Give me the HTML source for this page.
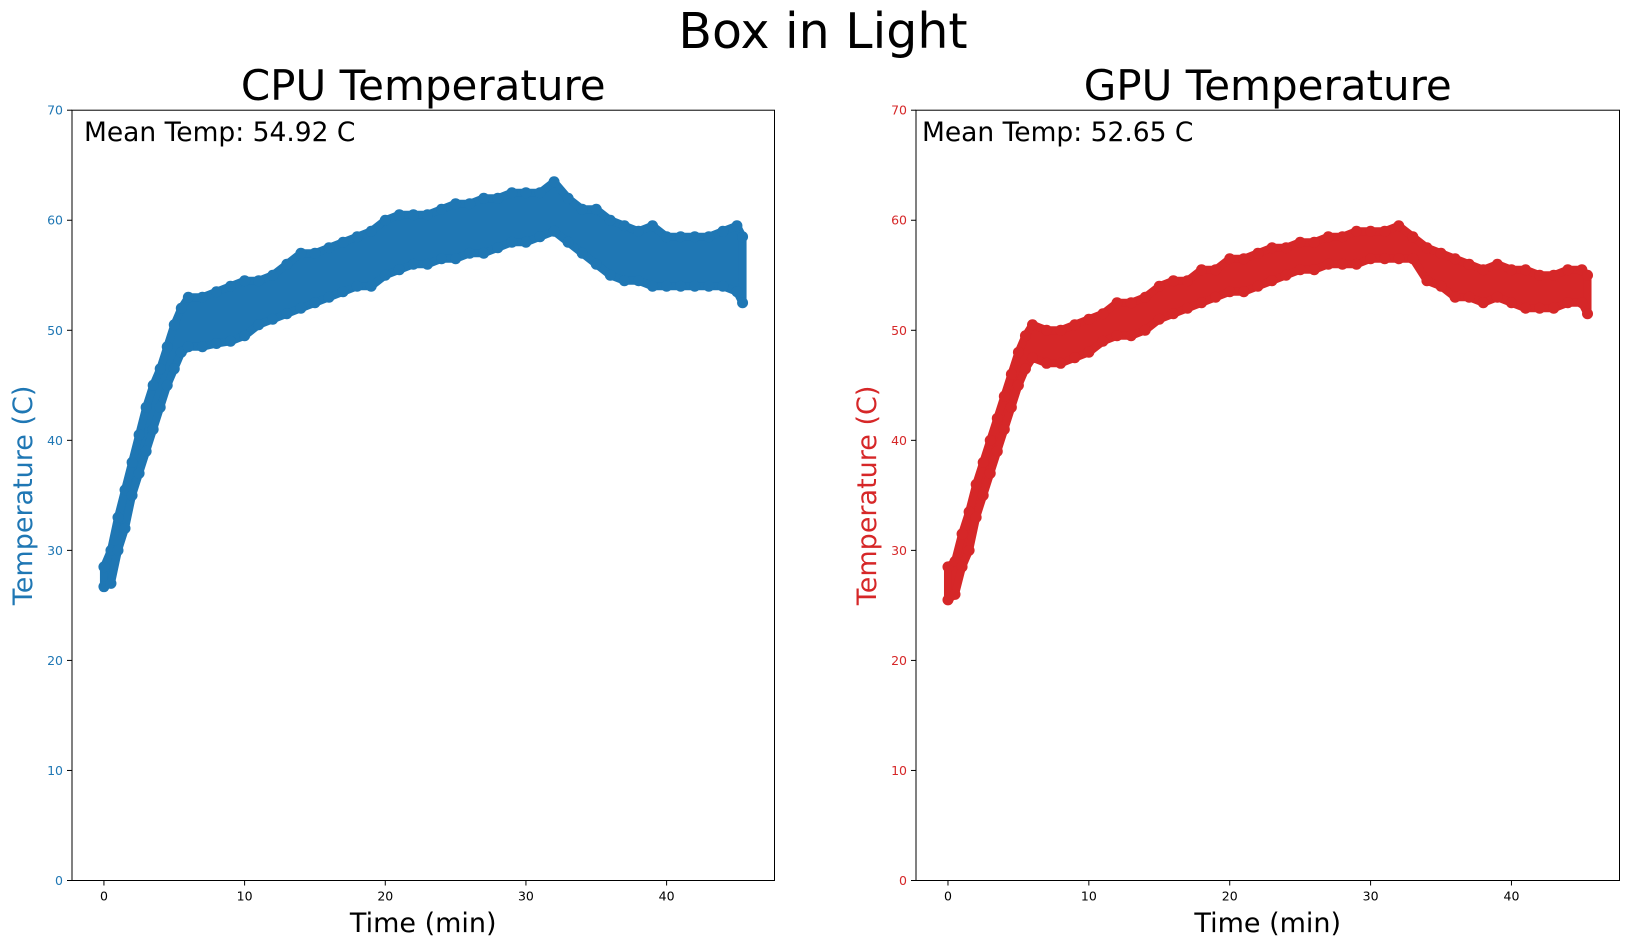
<!DOCTYPE html>
<html><head><meta charset="utf-8"><style>
body{margin:0;background:#fff;}
svg{display:block;font-family:"DejaVu Sans","Liberation Sans",sans-serif;}
</style></head><body>
<svg id="fig" width="1630" height="947" viewBox="0 0 1630 947">
<text x="823" y="48" font-size="49" text-anchor="middle">Box in Light</text>
</svg>
<script>
const times=[0,0.5,1,1.5,2,2.5,3,3.5,4,4.5,5,5.5,6,7,8,9,10,11,12,13,14,15,16,17,18,19,20,21,22,23,24,25,26,27,28,29,30,31,32,33,34,35,36,37,38,39,40,41,42,43,44,45,45.4];
const cpuLo=[26.7,27,30,32,35,37,39,41,43,45,46.5,48,48.5,48.5,48.8,49,49.5,50.5,51,51.5,52,52.5,53,53.5,54,54,55,55.5,56,56,56.5,56.5,57,57,57.5,58,58,58.5,59,58,57,56,55,54.5,54.5,54,54,54,54,54,54,53.5,52.5];
const cpuHi=[28.5,30,33,35.5,38,40.5,43,45,46.5,48.5,50.5,52,53,53,53.5,54,54.5,54.5,55,56,57,57,57.5,58,58.5,59,60,60.5,60.5,60.5,61,61.5,61.5,62,62,62.5,62.5,62.5,63.5,62,61,61,60,59.5,59,59.5,58.5,58.5,58.5,58.5,59,59.5,58.5];
const gpuLo=[25.5,26,28.5,30,33,35,37,39,41,43,45,46.5,47.5,47,47,47.5,48,49,49.5,49.5,50,51,51.5,52,52.5,53,53.5,53.5,54,54.5,55,55.5,55.5,56,56,56,56.5,56.5,56.5,56.5,54.5,54,53,53,52.5,53,52.5,52,52,52,52.5,52.5,51.5];
const gpuHi=[28.5,29,31.5,33.5,36,38,40,42,44,46,48,49.5,50.5,50,50,50.5,51,51.5,52.5,52.5,53,54,54.5,54.5,55.5,55.5,56.5,56.5,57,57.5,57.5,58,58,58.5,58.5,59,59,59,59.5,58.5,57.5,57,56.5,56,55.5,56,55.5,55.5,55,55,55.5,55.5,55];
const xTicks=[0,10,20,30,40];
const yTicks=[0,10,20,30,40,50,60,70];
const panels=[
 {key:'cpu',title:'CPU Temperature',mean:'Mean Temp: 54.92 C',color:'#1f77b4',lo:cpuLo,hi:cpuHi,L:72,R:774.5,mx:12},
 {key:'gpu',title:'GPU Temperature',mean:'Mean Temp: 52.65 C',color:'#d62728',lo:gpuLo,hi:gpuHi,L:916,R:1619.5,mx:6}
];
const NS='http://www.w3.org/2000/svg';
const svg=document.getElementById('fig');
function mk(tag,attrs,parent){const e=document.createElementNS(NS,tag);for(const k in attrs)e.setAttribute(k,attrs[k]);(parent||svg).appendChild(e);return e;}
const T=110.2,B=880.5,XMIN=-2.27,XMAX=47.67;
panels.forEach(p=>{
 const g=mk('g',{});
 
 
 const sx=v=>p.L+(v-XMIN)/(XMAX-XMIN)*(p.R-p.L);
 const sy=v=>B-v/70*(B-T);
 let pts=times.map((t,i)=>sx(t)+','+sy(p.hi[i]));
 for(let i=times.length-1;i>=0;i--)pts.push(sx(times[i])+','+sy(p.lo[i]));
 const band=mk('polygon',{points:pts.join(' '),fill:p.color,stroke:p.color,'stroke-width':8,'stroke-linejoin':'round'},g);
 
 
 times.forEach((t,i)=>{
  [p.lo[i],p.hi[i]].forEach(v=>{
   const c=mk('circle',{cx:sx(t),cy:sy(v),r:5.5,fill:p.color},g);
   
   
  });
 });
 const fr=mk('rect',{x:p.L,y:T,width:p.R-p.L,height:B-T,fill:'none',stroke:'#000','stroke-width':1},g);
 
 
 xTicks.forEach(v=>{
  mk('line',{x1:sx(v),x2:sx(v),y1:B,y2:B+5,stroke:'#000'},g);
  const tx=mk('text',{x:sx(v),y:B+20,'font-size':12.5,'text-anchor':'middle'},g);
  tx.textContent=v;
  
  
 });
 yTicks.forEach(v=>{
  mk('line',{x1:p.L-5,x2:p.L,y1:sy(v),y2:sy(v),stroke:'#000'},g);
  const tx=mk('text',{x:p.L-9,y:sy(v)+4.5,'font-size':12.5,'text-anchor':'end',fill:p.color},g);
  tx.textContent=v;
  
  
 });
 const cx=(p.L+p.R)/2;
 const ti=mk('text',{x:cx,y:100,'font-size':42,'text-anchor':'middle'},g);
 ti.textContent=p.title;
 
 
 const xl=mk('text',{x:cx,y:932,'font-size':27,'text-anchor':'middle'},g);
 xl.textContent='Time (min)';
 
 
 const yx=p.L-40;
 const yl=mk('text',{x:yx,y:(T+B)/2,'font-size':27,'text-anchor':'middle',fill:p.color,transform:`rotate(-90 ${yx} ${(T+B)/2})`},g);
 yl.textContent='Temperature (C)';
 
 
 const mt=mk('text',{x:p.L+p.mx,y:141,'font-size':26.5},g);
 mt.textContent=p.mean;
 
 
});
</script>
</body></html>
